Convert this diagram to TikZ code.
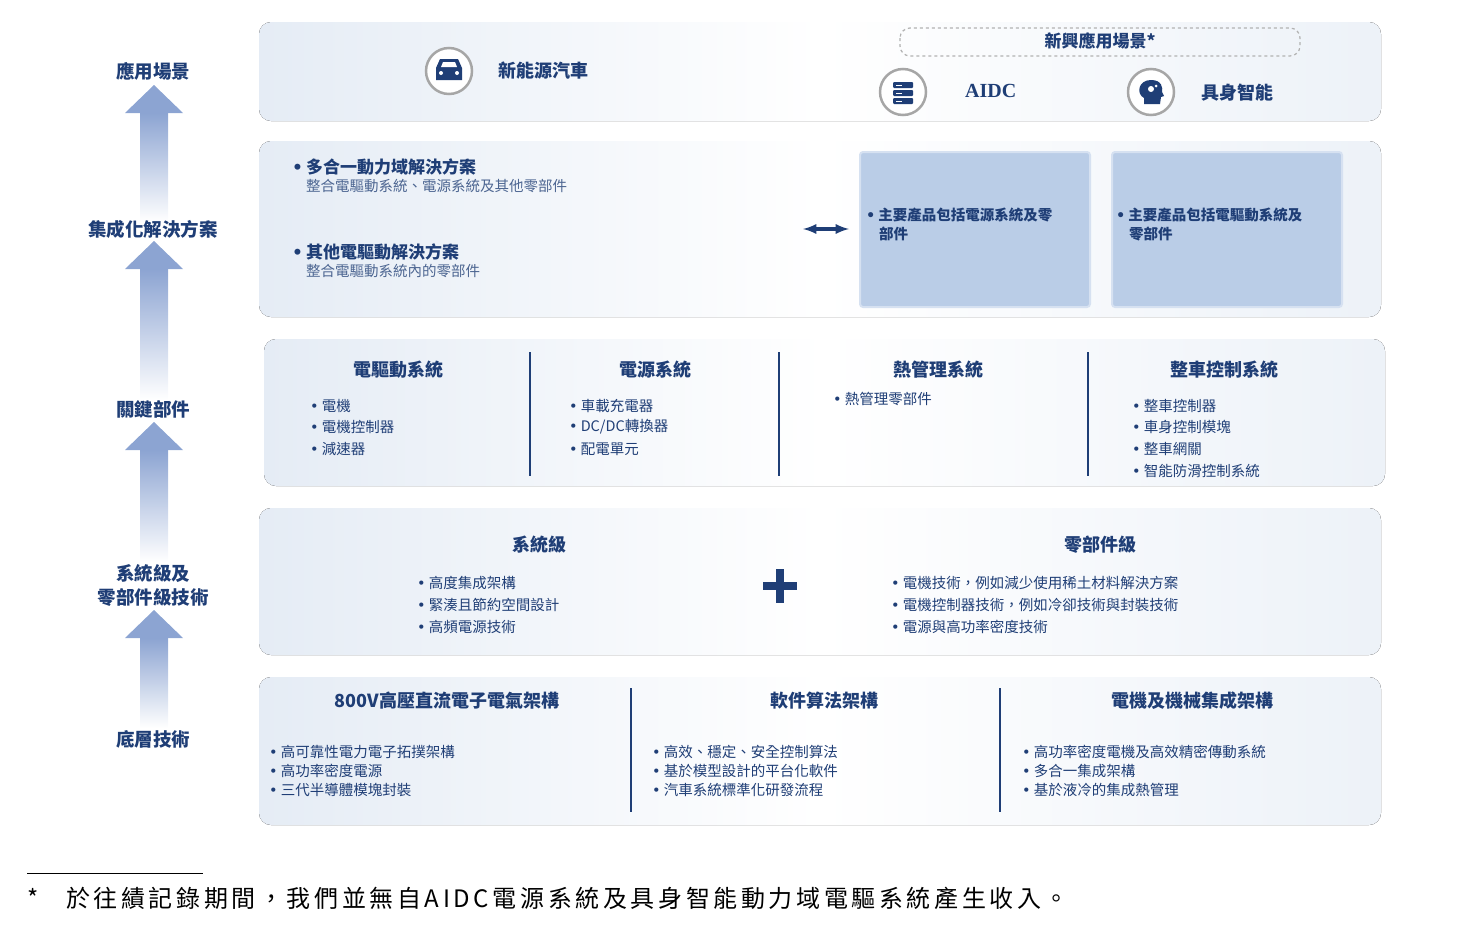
\documentclass[tikz,border=0pt]{standalone}
\usepackage{fontspec}
\setmainfont{Noto Sans CJK TC}
\newfontfamily\serifb{Liberation Serif}
\newfontfamily\dvs{DejaVu Sans}
\newfontfamily\fnfont{Noto Sans CJK TC}[LetterSpace=15]
\newcommand{\bu}{{\dvs •}\hspace{3pt}}
\usetikzlibrary{shapes.geometric}
\definecolor{tx}{RGB}{31,62,118}
\definecolor{pan}{RGB}{229,236,245}
\definecolor{inb}{RGB}{186,205,231}
\definecolor{arr}{RGB}{140,164,210}
\tikzset{
 panel/.style={rounded corners=12pt,left color=pan,right color=pan!70!white,middle color=white,draw=none},
 head/.style={text=tx,font=\fontsize{18}{21}\selectfont\bfseries,inner sep=0pt},
 lab/.style={text=tx,font=\fontsize{18.5}{24}\selectfont\bfseries,inner sep=0pt,align=center},
 itm/.style={text=tx,font=\fontsize{14.5}{19}\selectfont,inner sep=0pt,anchor=west},
 sub/.style={text=tx!80,font=\fontsize{14.5}{19}\selectfont,inner sep=0pt,anchor=west},
 bb/.style={text=tx,font=\fontsize{17}{20}\selectfont\bfseries,inner sep=0pt,anchor=west},
 divl/.style={draw=tx,line width=1.6pt},
 ring/.style={circle,minimum size=46pt,draw=gray!70,line width=2.5pt,fill=white,inner sep=0pt},
 inbox/.style={fill=inb,draw=inb!60!white,line width=2pt,rounded corners=3pt}
}
\newcommand{\uparr}[3]{% x, tip y, bottom y
 \shade[top color=arr,bottom color=white] (#1-14,#2+28) rectangle (#1+14,#3);
 \fill[arr] (#1,#2) -- (#1+29,#2+28) -- (#1-29,#2+28) -- cycle;}
\begin{document}
\begin{tikzpicture}[x=1pt,y=-1pt]
\useasboundingbox (0,0) rectangle (1476,932);
% left column
\uparr{154}{85}{222}
\uparr{154}{241}{400}
\uparr{154}{422}{562}
\uparr{154}{610}{728}
\node[lab] (l1) at (153,71) {應用場景};
\node[lab] (l2) at (153,229) {集成化解決方案};
\node[lab] (l3) at (153,409) {關鍵部件};
\node[lab] (l4) at (153,585) {系統級及\\零部件級技術};
\node[lab] (l5) at (153,739) {底層技術};
% panels
\fill[panel] (259,22) rectangle (1381,121);
\fill[panel] (259,141) rectangle (1381,317);
\fill[panel] (264,339) rectangle (1385,486);
\fill[panel] (259,508) rectangle (1381,655);
\fill[panel] (259,677) rectangle (1381,825);
% panel 1
\node[ring] (c1) at (449,71) {};
\fill[tx] (436,68) -- (440,59) -- (458,59) -- (462,68) -- (462,80) -- (436,80) -- cycle;
\fill[white] (441,67) -- (443,62) -- (455,62) -- (457,67) -- cycle;
\fill[white] (441,73) circle (2); \fill[white] (457,73) circle (2);
\node[head,anchor=west] (nev) at (498,71) {新能源汽車};
\draw[gray!60,dashed,line width=1.2pt,rounded corners=10pt] (900,28) rectangle (1300,56);
\node[head,font=\fontsize{17}{20}\selectfont\bfseries] (em) at (1100,41) {新興應用場景*};
\node[ring] (c2) at (903,92) {};
\foreach \yy in {82,90,98}{\fill[tx,rounded corners=1pt] (893,\yy) rectangle (913,\yy+6);
 \fill[white] (896,\yy+2.5) rectangle (902,\yy+3.5);}
\node[text=tx,font=\fontsize{20}{24}\selectfont\serifb\bfseries,anchor=west,inner sep=0pt] (aidc) at (965,91) {AIDC};
\node[ring] (c3) at (1151,92) {};
\fill[tx] (1144,104) -- (1144,98) .. controls (1136,94) and (1138,80) .. (1151,80) .. controls (1162,80) and (1163,88) .. (1162,92) -- (1164,96) -- (1161,97) -- (1160,104) -- cycle;
\fill[white] (1151,89) circle (3); \fill[white] (1156,86) circle (1.5);
\node[head,anchor=west] (emb) at (1201,93) {具身智能};
% panel 2
\node[bb] (s1) at (292,167) {\bu 多合一動力域解決方案};
\node[sub] (s1b) at (306,186) {整合電驅動系統、電源系統及其他零部件};
\node[bb] (s2) at (292,252) {\bu 其他電驅動解決方案};
\node[sub] (s2b) at (306,271) {整合電驅動系統內的零部件};
\draw[inbox] (860,152) rectangle (1090,307);
\draw[inbox] (1112,152) rectangle (1342,307);
\coordinate (da) at (803,229); \coordinate (db) at (849,229);
\draw[tx,line width=3.5pt,<->,>={latex}] (da) -- (db);
\node[itm,font=\fontsize{14.5}{19}\selectfont\bfseries,align=left,anchor=north west] (b1) at (866,208) {\bu 主要產品包括電源系統及零\\\hspace{13pt}部件};
\node[itm,font=\fontsize{14.5}{19}\selectfont\bfseries,align=left,anchor=north west] (b2) at (1116,208) {\bu 主要產品包括電驅動系統及\\\hspace{13pt}零部件};
% panel 3
\draw[divl] (530,352) -- (530,476);
\draw[divl] (779,352) -- (779,476);
\draw[divl] (1088,352) -- (1088,476);
\node[head] (h1) at (398,370) {電驅動系統};
\node[head] (h2) at (655,370) {電源系統};
\node[head] (h3) at (938,370) {熱管理系統};
\node[head] (h4) at (1224,370) {整車控制系統};
\node[itm] at (310,406) {\bu 電機};
\node[itm] at (310,427) {\bu 電機控制器};
\node[itm] at (310,449) {\bu 減速器};
\node[itm] at (569,406) {\bu 車載充電器};
\node[itm] at (569,427) {\bu DC/DC轉換器};
\node[itm] at (569,449) {\bu 配電單元};
\node[itm] at (833,399) {\bu 熱管理零部件};
\node[itm] at (1132,406) {\bu 整車控制器};
\node[itm] at (1132,427) {\bu 車身控制模塊};
\node[itm] at (1132,449) {\bu 整車網關};
\node[itm] at (1132,471) {\bu 智能防滑控制系統};
% panel 4
\node[head] (h5) at (539,545) {系統級};
\node[head] (h6) at (1100,545) {零部件級};
\node[itm] at (417,583) {\bu 高度集成架構};
\node[itm] at (417,605) {\bu 緊湊且節約空間設計};
\node[itm] at (417,627) {\bu 高頻電源技術};
\node[itm] at (891,583) {\bu 電機技術，例如減少使用稀土材料解決方案};
\node[itm] at (891,605) {\bu 電機控制器技術，例如冷卻技術與封裝技術};
\node[itm] at (891,627) {\bu 電源與高功率密度技術};
\fill[tx] (776,569) rectangle (784,603);
\fill[tx] (763,582) rectangle (797,590);
% panel 5
\draw[divl] (631,688) -- (631,812);
\draw[divl] (1000,688) -- (1000,812);
\node[head] (h7) at (447,701) {800V高壓直流電子電氣架構};
\node[head] (h8) at (824,701) {軟件算法架構};
\node[head] (h9) at (1192,701) {電機及機械集成架構};
\node[itm] at (269,752) {\bu 高可靠性電力電子拓撲架構};
\node[itm] at (269,771) {\bu 高功率密度電源};
\node[itm] at (269,790) {\bu 三代半導體模塊封裝};
\node[itm] at (652,752) {\bu 高效、穩定、安全控制算法};
\node[itm] at (652,771) {\bu 基於模型設計的平台化軟件};
\node[itm] at (652,790) {\bu 汽車系統標準化研發流程};
\node[itm] at (1022,752) {\bu 高功率密度電機及高效精密傳動系統};
\node[itm] at (1022,771) {\bu 多合一集成架構};
\node[itm] at (1022,790) {\bu 基於液冷的集成熱管理};
% footnote
\draw[black,line width=1pt] (27,873) -- (203,873);
\node[inner sep=0pt,font=\fontsize{24}{28}\selectfont,anchor=west] (fn0) at (27,898) {*};
\node[inner sep=0pt,font=\fontsize{24}{28}\selectfont\fnfont,anchor=west] (fn) at (66,898) {於往績記錄期間，我們並無自AIDC電源系統及具身智能動力域電驅系統產生收入。};
\end{tikzpicture}
\end{document}
